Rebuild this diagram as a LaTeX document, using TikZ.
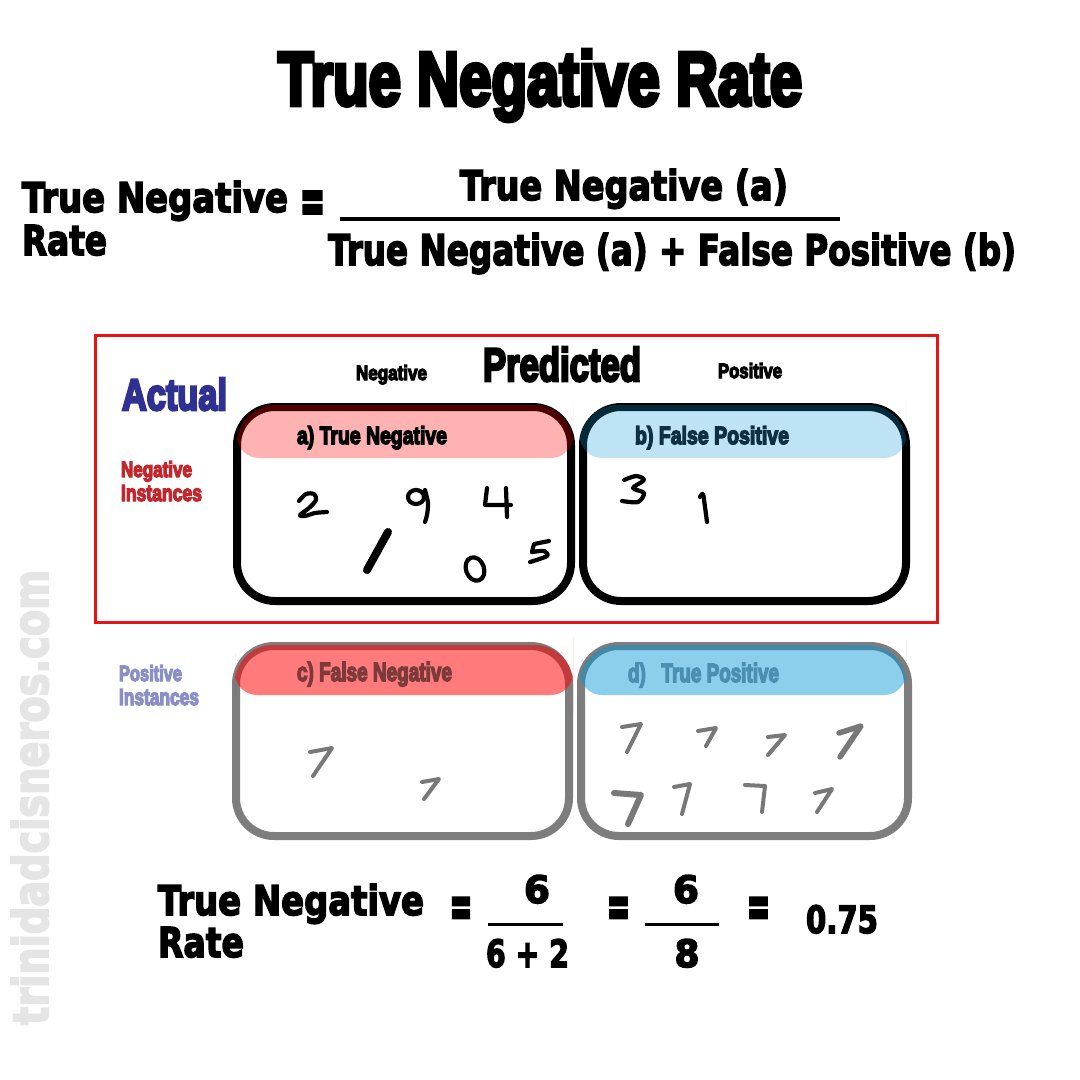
\documentclass[tikz,border=0pt]{standalone}
\usepackage{fontspec}
\usepackage{graphicx}
\setmainfont{Liberation Sans}
\newfontfamily\ImpFam[BoldFeatures={FakeBold=6}]{Liberation Sans}
\newfontfamily\BlkFam[BoldFeatures={FakeBold=4}]{DejaVu Sans}
\newfontfamily\EqFam[BoldFeatures={FakeBold=6}]{DejaVu Sans}
\newcommand\ImpF{\ImpFam\bfseries}
\newcommand\BlkF{\BlkFam\bfseries}
\newcommand\EqF{\EqFam\bfseries}
\newcommand\fitt[3]{\resizebox{#1pt}{#2pt}{#3}}
\newcommand\fith[2]{\resizebox{!}{#1pt}{#2}}
\definecolor{frameRed}{RGB}{230,20,20}
\definecolor{navyA}{RGB}{46,49,146}
\definecolor{redLab}{RGB}{193,39,45}
\definecolor{lavLab}{RGB}{139,143,200}
\definecolor{navyB}{RGB}{14,48,66}
\definecolor{grayBox}{RGB}{125,125,125}
\definecolor{cText}{RGB}{125,58,58}
\definecolor{dText}{RGB}{75,143,176}
\definecolor{blueHdr}{RGB}{15,155,218}
\definecolor{blueHdrD}{RGB}{0,150,215}
\definecolor{digGray}{RGB}{120,120,120}
\definecolor{wmGray}{RGB}{229,229,229}
\begin{document}
\begin{tikzpicture}[x=1pt,y=-1pt,
  txt/.style={inner sep=0pt, outer sep=0pt, anchor=base west},
  boxblk/.style={draw=black, line width=8pt, rounded corners=38pt},
  boxgry/.style={draw=grayBox, line width=8pt, rounded corners=38pt},
  dg/.style={draw=black, line width=4.2pt, line cap=round, line join=round},
  dgg/.style={draw=digGray, line width=4pt, line cap=round, line join=round},
  rulef/.style={line width=4pt, draw=black}]
\useasboundingbox (0,0) rectangle (1080,1080);
\fill[white] (0,0) rectangle (1080,1080);

% watermark
\node[txt, rotate=90, text=wmGray] (wm) at (48,1025) {\fitt{455}{37}{\BlkF trinidadcisneros.com}};

% title
\node[txt] (title) at (278,105) {\fitt{524}{55}{\ImpF True Negative Rate}};

% general formula
\node[txt] (tn1) at (22,212) {\fitt{266}{31}{\BlkF True Negative}};
\node[txt] (rate1) at (22,255) {\fitt{85}{30}{\BlkF Rate}};
\node[txt, anchor=north west] (eq1) at (300,192) {\fitt{25}{30}{\EqF =}};
\node[txt] (num) at (460,200) {\fitt{328}{31}{\BlkF True Negative (a)}};
\coordinate (r1a) at (340,219); \coordinate (r1b) at (840,219);
\draw[rulef] (r1a) -- (r1b);
\node[txt] (den) at (328,265) {\fitt{688}{32}{\BlkF True Negative (a) + False Positive (b)}};

% red frame
\draw[frameRed, line width=3pt] (95,335) rectangle (937,622);

% axis labels
\node[txt] (pred) at (483,381) {\fitt{158}{34}{\ImpF Predicted}};
\node[txt] (pneg) at (356,380) {\fitt{71}{15}{\ImpF Negative}};
\node[txt] (ppos) at (718,378) {\fitt{64}{15}{\ImpF Positive}};
\node[txt, text=navyA] (act) at (122,410) {\fitt{105}{32}{\ImpF Actual}};
\node[txt, text=redLab] (ni1) at (121,477) {\fitt{71}{16}{\ImpF Negative}};
\node[txt, text=redLab] (ni2) at (121,501) {\fitt{81}{16}{\ImpF Instances}};
\node[txt, text=lavLab] (pi1) at (119,681) {\fitt{63}{16}{\ImpF Positive}};
\node[txt, text=lavLab] (pi2) at (119,705) {\fitt{80}{16}{\ImpF Instances}};

% boxes
\draw[boxblk] (237,407) rectangle (571,601);
\draw[boxblk] (583,407) rectangle (906,601);
\draw[boxgry] (236,646) rectangle (569,836);
\draw[boxgry] (581,646) rectangle (908,836);

% headers
\fill[red, opacity=0.3] (237,440) [rounded corners=38pt] -- (237,405) -- (573,405) -- (573,440) [rounded corners=22pt] -- (573,458) -- (237,458) -- cycle;
\fill[blueHdr, opacity=0.27] (580,440) [rounded corners=38pt] -- (580,405) -- (906,405) -- (906,440) [rounded corners=22pt] -- (906,458) -- (580,458) -- cycle;
\fill[red, opacity=0.52] (235,675) [rounded corners=38pt] -- (235,645) -- (573,645) -- (573,675) [rounded corners=22pt] -- (573,695) -- (235,695) -- cycle;
\fill[blueHdrD, opacity=0.45] (580,675) [rounded corners=38pt] -- (580,645) -- (906,645) -- (906,675) [rounded corners=22pt] -- (906,695) -- (580,695) -- cycle;

\node[txt] (ha) at (297,444) {\fitt{150}{18}{\ImpF a)\ True Negative}};
\node[txt, text=navyB] (hb) at (635,444) {\fitt{154}{18}{\ImpF b)\ False Positive}};
\node[txt, text=cText] (hc) at (297,681) {\fitt{155}{19}{\ImpF c)\ False Negative}};
\node[txt, text=dText] (hd) at (628,682) {\fitt{151}{19}{\ImpF d)\ \ \ True Positive}};

% digits in a)
\draw[dg] plot[smooth] coordinates {(299,501) (306,494) (314,494) (316,500) (309,508) (300,515) (305,516) (315,513) (327,512)};
\draw[dg] (416,497) ellipse (8pt and 7pt);
\draw[dg] plot[smooth] coordinates {(425,490) (428,503) (427,515) (425,522)};
\draw[dg] (487,488) -- (485,505) -- (511,505);
\draw[dg] (506,488) -- (507,517);
\draw[dg, line width=8pt] (388,532) -- (367,570);
\draw[dg, rotate around={20:(475,569)}] (475,569) ellipse (9pt and 12pt);
\draw[dg] (549,541) -- (534,544) -- (532,552);
\draw[dg] plot[smooth] coordinates {(532,552) (544,551) (547,556) (530,562)};
% digits in b)
\draw[dg] plot[smooth] coordinates {(624,480) (636,476) (644,480) (633,488) (644,493) (638,502) (622,501)};
\draw[dg] plot[smooth] coordinates {(700,497) (703,494) (705,507) (707,522)};
% digits in c)
\draw[dgg] (310,752) -- (332,748) -- (313,776);
\draw[dgg] (422,782) -- (439,779) -- (424,799);
% digits in d)
\draw[dgg] (622,727) -- (641,724) -- (627,752);
\draw[dgg] (698,731) -- (716,728) -- (706,746);
\draw[dgg] (768,737) -- (785,735) -- (768,755);
\draw[dgg, line width=5.5pt] (839,733) -- (861,726) -- (840,757);
\draw[dgg, line width=6pt] (614,793) -- (641,795) -- (628,824);
\draw[dgg] (674,787) -- (690,784) -- (682,814);
\draw[dgg] (745,785) -- (765,786) -- (762,812);
\draw[dgg] (815,793) -- (832,789) -- (817,812);

% numeric formula
\node[txt] (tn2) at (158,915) {\fitt{266}{31}{\BlkF True Negative}};
\node[txt] (rate2) at (158,957) {\fitt{86}{30}{\BlkF Rate}};
\node[txt, anchor=north west] (eq2) at (450,898) {\fitt{22}{28}{\EqF =}};
\node[txt, anchor=base] (n1) at (537,903) {\fitt{26}{28}{\BlkF 6}};
\coordinate (r2a) at (488,924); \coordinate (r2b) at (563,924);
\draw[rulef, line width=3pt] (r2a) -- (r2b);
\node[txt] (d1) at (486,967) {\fitt{83}{28}{\BlkF 6 + 2}};
\node[txt, anchor=north west] (eq3) at (607,898) {\fitt{23}{28}{\EqF =}};
\node[txt, anchor=base] (n2) at (686,903) {\fitt{26}{28}{\BlkF 6}};
\coordinate (r3a) at (645,924); \coordinate (r3b) at (719,924);
\draw[rulef, line width=3pt] (r3a) -- (r3b);
\node[txt, anchor=base] (d2) at (687,967) {\fitt{25}{28}{\BlkF 8}};
\node[txt, anchor=north west] (eq4) at (747,898) {\fitt{23}{28}{\EqF =}};
\node[txt] (res) at (806,933) {\fitt{72}{28}{\BlkF 0.75}};
\end{tikzpicture}
\end{document}
